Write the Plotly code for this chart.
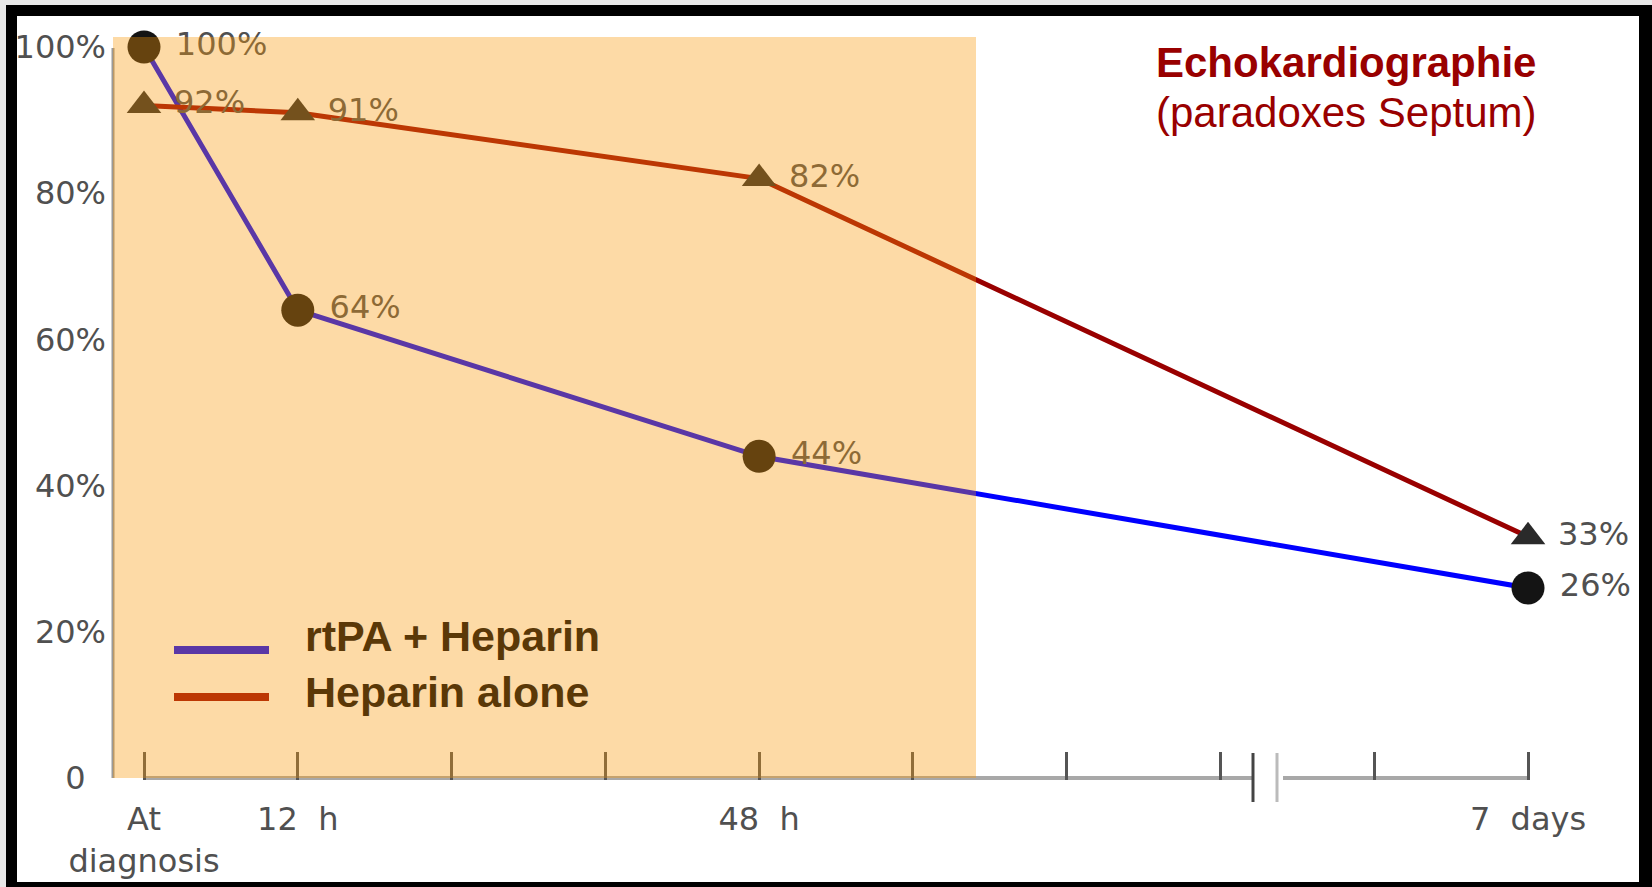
import plotly.graph_objects as go

# ---------------- data ----------------
time_labels = ["At<br>diagnosis", "12\u00a0 h", "48\u00a0 h", "7\u00a0 days"]
time_slots = [0, 1, 4, 9]          # position on the broken time axis (12 h per slot, break before 7 days)
rtpa_heparin = [100, 64, 44, 26]   # % with paradoxical septum motion
heparin_alone = [92, 91, 82, 33]
y_ticks = [0, 20, 40, 60, 80, 100]
y_tick_text = ["0\u00a0\u00a0", "20%", "40%", "60%", "80%", "100%"]
series_names = ["rtPA + Heparin", "Heparin alone"]
title_main = "Echokardiographie"
title_sub = "(paradoxes Septum)"

# ---------------- geometry ----------------
W, H = 1652, 887
ML, MR, MT, MB = 113, 52, 37, 107
PW, PH = W - ML - MR, H - MT - MB
X0PX, XSTEP = 144.0, 153.78
Y0PX, YSTEP = 778.0, 7.31


def sx(px):
    return (px - X0PX) / XSTEP


def sy(py):
    return (Y0PX - py) / YSTEP


def pxp(px):
    return (px - ML) / PW


def pyp(py):
    return (H - MB - py) / PH


GRAY = "#505050"
LABEL_FONT = dict(family="DejaVu Sans", size=32, color=GRAY)

fig = go.Figure()

fig.add_trace(go.Scatter(
    x=time_slots, y=rtpa_heparin, name=series_names[0],
    mode="lines+markers+text",
    line=dict(color="#0000FF", width=5),
    marker=dict(symbol="circle", size=33, color="#141414"),
    text=[f"{v}%" for v in rtpa_heparin],
    texttemplate="\u00a0%{text}", textposition="middle right",
    textfont=LABEL_FONT, cliponaxis=False, showlegend=False,
))
fig.add_trace(go.Scatter(
    x=time_slots, y=heparin_alone, name=series_names[1],
    mode="lines+markers+text",
    line=dict(color="#990000", width=5),
    marker=dict(symbol="triangle-up", size=30, color="#2a2a2a"),
    text=[f"{v}%" for v in heparin_alone],
    texttemplate="\u00a0%{text}", textposition="middle right",
    textfont=LABEL_FONT, cliponaxis=False, showlegend=False,
))

tickvals = list(range(10))
ticktext = [time_labels[time_slots.index(v)] if v in time_slots else "" for v in tickvals]

shapes = []
# frame
shapes.append(dict(type="rect", xref="paper", yref="paper", layer="below",
                   x0=pxp(6), x1=pxp(1670), y0=pyp(900), y1=pyp(5),
                   fillcolor="black", line=dict(width=0)))
shapes.append(dict(type="rect", xref="paper", yref="paper", layer="below",
                   x0=pxp(17), x1=pxp(1639), y0=pyp(882), y1=pyp(16),
                   fillcolor="white", line=dict(width=0)))
# y axis line
shapes.append(dict(type="line", xref="paper", yref="y", layer="below",
                   x0=0, x1=0, y0=0, y1=sy(48), line=dict(color="#9a9a9a", width=3)))
# x axis line with break
shapes.append(dict(type="line", xref="x", yref="paper", layer="below",
                   x0=0, x1=sx(1253), y0=pyp(778), y1=pyp(778), line=dict(color="#a8a8a8", width=4)))
shapes.append(dict(type="line", xref="x", yref="paper", layer="below",
                   x0=sx(1283), x1=9, y0=pyp(778), y1=pyp(778), line=dict(color="#a8a8a8", width=4)))
shapes.append(dict(type="line", xref="x", yref="paper", layer="below",
                   x0=sx(1253), x1=sx(1253), y0=pyp(802), y1=pyp(753), line=dict(color="#444444", width=3)))
shapes.append(dict(type="line", xref="x", yref="paper", layer="below",
                   x0=sx(1277), x1=sx(1277), y0=pyp(802), y1=pyp(753), line=dict(color="#bbbbbb", width=3)))
# legend samples (under the highlight)
shapes.append(dict(type="line", xref="paper", yref="paper", layer="above",
                   x0=pxp(174), x1=pxp(269), y0=pyp(650), y1=pyp(650), line=dict(color="#0000FF", width=8)))
shapes.append(dict(type="line", xref="paper", yref="paper", layer="above",
                   x0=pxp(174), x1=pxp(269), y0=pyp(697), y1=pyp(697), line=dict(color="#990000", width=8)))
# translucent orange highlight over the first 60 h
shapes.append(dict(type="rect", xref="paper", yref="paper", layer="above",
                   x0=0, x1=pxp(976), y0=pyp(778), y1=1,
                   fillcolor="rgba(249,152,8,0.36)", line=dict(width=0)))

annotations = [
    dict(text="<b>" + title_main + "</b>", xref="paper", yref="paper", x=pxp(1154), y=pyp(62),
         xanchor="left", yanchor="middle", showarrow=False,
         font=dict(family="Liberation Sans, Arial", size=42, color="#990000")),
    dict(text=title_sub, xref="paper", yref="paper", x=pxp(1154), y=pyp(112),
         xanchor="left", yanchor="middle", showarrow=False,
         font=dict(family="Liberation Sans, Arial", size=42, color="#990000")),
    dict(text="<b>" + series_names[0] + "</b>", xref="paper", yref="paper", x=pxp(303), y=pyp(636),
         xanchor="left", yanchor="middle", showarrow=False,
         font=dict(family="Liberation Sans, Arial", size=43, color="#5a3807")),
    dict(text="<b>" + series_names[1] + "</b>", xref="paper", yref="paper", x=pxp(303), y=pyp(692),
         xanchor="left", yanchor="middle", showarrow=False,
         font=dict(family="Liberation Sans, Arial", size=43, color="#5a3807")),
]

fig.update_layout(
    template="none",
    width=W, height=H,
    margin=dict(l=ML, r=MR, t=MT, b=MB, pad=0, autoexpand=False),
    paper_bgcolor="#e8e8e8", plot_bgcolor="rgba(0,0,0,0)",
    shapes=shapes, annotations=annotations, showlegend=False,
    xaxis=dict(range=[sx(ML), sx(W - MR)], tickmode="array", tickvals=tickvals, ticktext=ticktext,
               ticks="inside", ticklen=28, tickwidth=3, tickcolor="#555555", automargin=False,
               showline=False, showgrid=False, zeroline=False, fixedrange=True,
               tickfont=LABEL_FONT, ticklabelstandoff=17),
    yaxis=dict(range=[sy(H - MB), sy(MT)], tickmode="array", tickvals=y_ticks, ticktext=y_tick_text,
               ticks="", showline=False, showgrid=False, zeroline=False, fixedrange=True, automargin=False,
               tickfont=LABEL_FONT, ticklabelstandoff=6),
)

fig.write_html("out.html")
